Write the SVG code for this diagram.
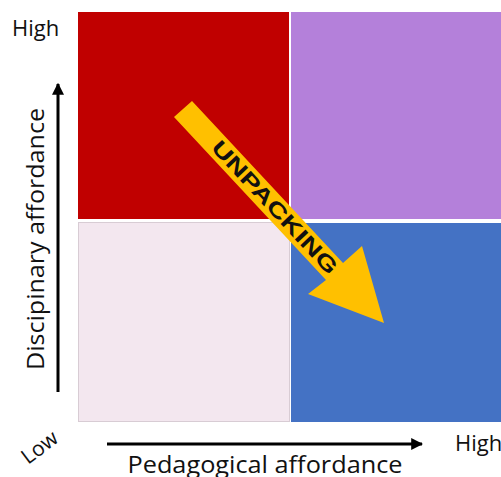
<svg xmlns="http://www.w3.org/2000/svg" width="501" height="477" viewBox="0 0 501 477">
  <defs>
    <marker id="axisHead" viewBox="0 0 10 10" refX="9" refY="5" markerWidth="4" markerHeight="4" orient="auto" markerUnits="strokeWidth">
      <path d="M0,0 L10,5 L0,10 Z" fill="#000"/>
    </marker>
    <style>
      .lbl { font-family: "Open Sans", "Liberation Sans", sans-serif; fill: #111; }
      .axis { stroke: #000; stroke-width: 3; fill: none; marker-end: url(#axisHead); }
      .big { font-family: "Liberation Sans", "DejaVu Sans", sans-serif; font-weight: bold; fill: #111; }
    </style>
  </defs>
  <rect width="501" height="477" fill="#fff"/>

  <!-- quadrants -->
  <g id="q-high-disc-low-ped">
    <rect x="78" y="12" width="211" height="207" fill="#C00000"/>
  </g>
  <g id="q-high-disc-high-ped">
    <rect x="291" y="12" width="210" height="207" fill="#B480DA"/>
  </g>
  <g id="q-low-disc-low-ped">
    <rect x="78.5" y="222.5" width="211" height="199" fill="#F3E7EF" stroke="#D8CCD4" stroke-width="1"/>
  </g>
  <g id="q-low-disc-high-ped">
    <rect x="291" y="223" width="210" height="199" fill="#4472C4"/>
  </g>

  <!-- unpacking arrow -->
  <g id="unpacking">
    <polygon points="174,117 192,101 343,263 362,246 384,323 308,294 326,280" fill="#FFC000"/>
    <text class="big" transform="translate(275,207) rotate(47)" x="0" y="7.5" font-size="21" text-anchor="middle" textLength="174" lengthAdjust="spacingAndGlyphs">UNPACKING</text>
  </g>

  <!-- axes -->
  <g id="connectors">
    <line class="axis" x1="58" y1="392" x2="58" y2="84"/>
    <line class="axis" x1="107" y1="444" x2="422" y2="444"/>
  </g>

  <!-- axis labels -->
  <g id="labels">
    <text class="lbl" x="12" y="36" font-size="22">High</text>
    <text class="lbl" x="455" y="451" font-size="22">High</text>
    <text class="lbl" transform="translate(28,465) rotate(-37)" font-size="21">Low</text>
    <text class="lbl" transform="translate(44,239) rotate(-90)" x="0" y="0" font-size="23" text-anchor="middle" textLength="262" lengthAdjust="spacingAndGlyphs">Discipinary affordance</text>
    <text class="lbl" x="265" y="473" font-size="23" text-anchor="middle" textLength="275" lengthAdjust="spacingAndGlyphs">Pedagogical affordance</text>
  </g>
</svg>
